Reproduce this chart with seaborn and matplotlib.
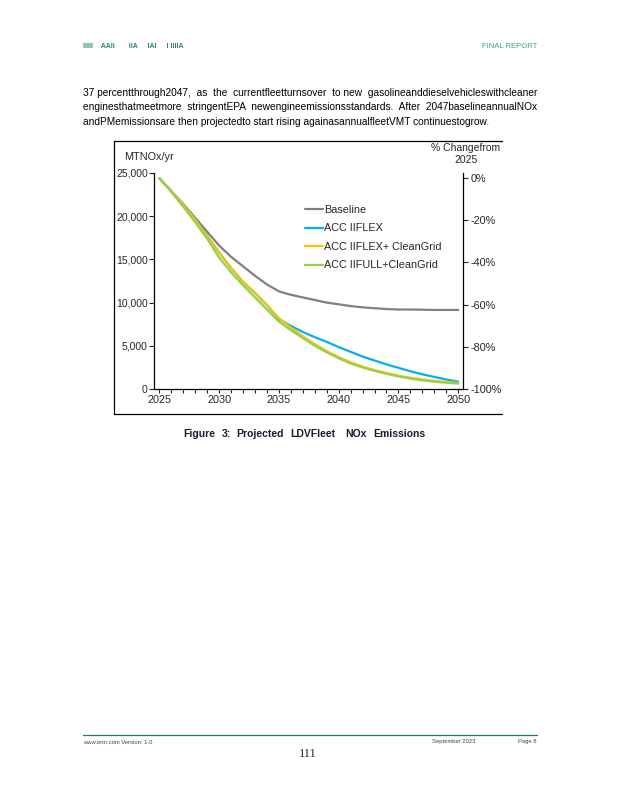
import numpy as np
import pandas as pd
import seaborn as sns
import matplotlib.pyplot as plt
from matplotlib.ticker import FuncFormatter, MultipleLocator
from matplotlib.lines import Line2D

sns.set_style("white")
plt.rcParams['font.family'] = ['Liberation Sans', 'DejaVu Sans']

# data (thousand MT NOx/yr)
years = list(range(2025, 2051))
baseline = [24.4, 22.9, 21.4, 19.8, 18.2, 16.6, 15.3, 14.2, 13.1, 12.1, 11.3, 10.9, 10.6,
            10.3, 10.0, 9.8, 9.6, 9.45, 9.35, 9.25, 9.2, 9.2, 9.18, 9.15, 9.15, 9.15]
flex = [24.4, 22.9, 21.3, 19.6, 17.7, 15.8, 14.0, 12.4, 11.1, 9.7, 8.1, 7.3, 6.6,
        6.0, 5.45, 4.85, 4.3, 3.75, 3.3, 2.85, 2.45, 2.05, 1.7, 1.4, 1.1, 0.85]
flex_grid = [24.4, 22.9, 21.3, 19.6, 17.7, 15.8, 14.0, 12.4, 11.1, 9.7, 8.2, 7.1, 6.1,
             5.2, 4.4, 3.7, 3.1, 2.6, 2.2, 1.85, 1.55, 1.3, 1.1, 0.95, 0.82, 0.72]
full_grid = [24.4, 22.8, 21.1, 19.3, 17.4, 15.2, 13.5, 12.0, 10.6, 9.2, 7.8, 6.8, 5.9,
             5.0, 4.25, 3.55, 2.95, 2.5, 2.1, 1.75, 1.45, 1.2, 1.0, 0.85, 0.72, 0.62]
series = ['Baseline', 'ACC IIFLEX', 'ACC IIFLEX+ CleanGrid', 'ACC IIFULL+CleanGrid']
colors = ['#808080', '#00B0F0', '#FFC000', '#92D050']
pct_ticks = [0, -20, -40, -60, -80, -100]

df = pd.DataFrame({'year': years * 4,
                   'nox': np.array(baseline + flex + flex_grid + full_grid) * 1000,
                   'scenario': sum([[s] * len(years) for s in series], [])})

W, H = 618, 800
fig = plt.figure(figsize=(W / 100, H / 100), dpi=100)
fig.patch.set_facecolor('white')

def fx(x):
    return x / W

def fy(y):
    return 1 - y / H

teal = '#1F7A6E'
# page header
fig.text(fx(83), fy(47), 'IIIII    AAII       IIA     IAI     I IIIIA', fontsize=5, color='#2E8B57',
         va='center', ha='left', fontweight='bold')
fig.text(fx(537), fy(47), 'FINAL REPORT', fontsize=5.5, color='#3AA38A', va='center', ha='right')

body = ['37 percentthrough2047,  as  the  currentfleetturnsover  to new  gasolineanddieselvehicleswithcleaner',
        'enginesthatmeetmore  stringentEPA  newengineemissionsstandards.  After  2047baselineannualNOx',
        'andPMemissionsare then projectedto start rising againasannualfleetVMT continuestogrow.']
for i, line in enumerate(body):
    fig.text(fx(83), fy(93 + i * 14.5), line, fontsize=7.3, color='black', va='center', ha='left')

# chart frame lines (top, left, bottom)
frame = dict(color='black', lw=0.9, transform=fig.transFigure)
fig.add_artist(Line2D([fx(114), fx(502)], [fy(141), fy(141)], **frame))
fig.add_artist(Line2D([fx(114), fx(114)], [fy(141), fy(414)], **frame))
fig.add_artist(Line2D([fx(114), fx(502)], [fy(414), fy(414)], **frame))

ax = fig.add_axes([fx(154), fy(389), fx(463) - fx(154), fy(173) - fy(389)])
sns.lineplot(data=df, x='year', y='nox', hue='scenario', palette=colors, hue_order=series,
             linewidth=1.6, ax=ax, legend=False)
ax.set_xlim(2024.55, 2050.4)
ax.set_ylim(0, 25000)
ax.set_xlabel('')
ax.set_ylabel('')
ax.xaxis.set_major_locator(MultipleLocator(5))
ax.xaxis.set_minor_locator(MultipleLocator(1))
ax.yaxis.set_major_locator(MultipleLocator(5000))
ax.yaxis.set_major_formatter(FuncFormatter(lambda v, p: f'{v:,.0f}'))
ax.tick_params(axis='x', which='both', direction='out', length=3, width=0.8, labelsize=7.8, pad=1.5, bottom=True)
ax.tick_params(axis='y', which='major', direction='out', length=3.5, width=0.8, labelsize=7.5, pad=1, left=True)
for s in ['top', 'right']:
    ax.spines[s].set_visible(False)
for s in ['left', 'bottom']:
    ax.spines[s].set_color('black')
    ax.spines[s].set_linewidth(0.9)
ax.patch.set_alpha(0)

ax2 = ax.twinx()
ax2.set_ylim(-100, 100 * 5 / 211)
ax2.set_yticks(pct_ticks)
ax2.set_yticklabels([f'{t}%' for t in pct_ticks])
ax2.tick_params(axis='y', direction='out', length=3.5, width=0.8, labelsize=7.8, pad=2, right=True)
for s in ['top', 'left', 'bottom']:
    ax2.spines[s].set_visible(False)
ax2.spines['right'].set_color('black')
ax2.spines['right'].set_linewidth(0.9)

fig.text(fx(124), fy(157), 'MTNOx/yr', fontsize=7.8, va='center', ha='left')
fig.text(fx(466), fy(148), '% Changefrom', fontsize=7.5, va='center', ha='center')
fig.text(fx(466), fy(160), '2025', fontsize=7.5, va='center', ha='center')

handles = [Line2D([0], [0], color=c, lw=1.6) for c in colors]
ax.legend(handles, series, loc='upper left', bbox_to_anchor=(fx(305), fy(205)),
          bbox_transform=fig.transFigure, frameon=False, fontsize=7.8,
          handlelength=1.65, handletextpad=0.15, labelspacing=0.78, borderpad=0, borderaxespad=0)

# caption, word by word
cap_words = ['Figure', '3:', 'Projected', 'LDVFleet', 'NOx', 'Emissions']
cap_x = [183, 222, 236, 290, 345, 373]
for w, x in zip(cap_words, cap_x):
    fig.text(fx(x), fy(434), w, fontsize=7.5, fontweight='bold', color='#1A1A2E', va='center', ha='left',
             family=['Liberation Sans Narrow', 'Liberation Sans'])

# footer
fig.add_artist(Line2D([fx(83), fx(537)], [fy(735), fy(735)], color=teal, lw=0.9, transform=fig.transFigure))
fig.text(fx(83), fy(742), 'www.erm.com Version: 1.0', fontsize=4.2, color='#444444', va='center', ha='left')
fig.text(fx(475), fy(742), 'September 2023', fontsize=4.2, color='#444444', va='center', ha='right')
fig.text(fx(537), fy(742), 'Page 8', fontsize=4.2, color='#444444', va='center', ha='right')
fig.text(fx(308), fy(754), '111', fontsize=9, family='Liberation Serif', va='center', ha='center')

fig.savefig('out.png', dpi=100)
